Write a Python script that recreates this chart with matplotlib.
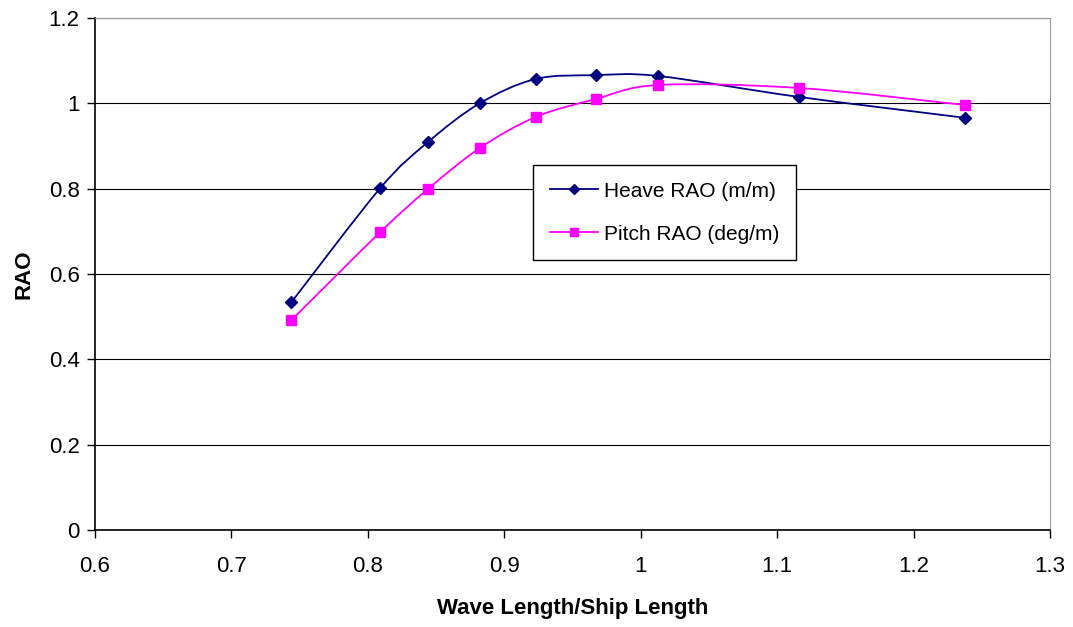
import matplotlib
matplotlib.use("Agg")
import matplotlib.pyplot as plt
from matplotlib.path import Path
from matplotlib.patches import PathPatch
from matplotlib.lines import Line2D
import numpy as np

plt.rcParams['font.family'] = ['Liberation Sans', 'DejaVu Sans']

# data
wave_ratio = [0.744, 0.809, 0.844, 0.882, 0.923, 0.967, 1.013, 1.116, 1.238]
heave_rao = [0.534, 0.801, 0.909, 1.000, 1.057, 1.066, 1.064, 1.015, 0.966]
pitch_rao = [0.492, 0.698, 0.799, 0.895, 0.968, 1.010, 1.043, 1.036, 0.996]

x_ticks = [0.6, 0.7, 0.8, 0.9, 1.0, 1.1, 1.2, 1.3]
x_labels = ['0.6', '0.7', '0.8', '0.9', '1', '1.1', '1.2', '1.3']
y_ticks = [0, 0.2, 0.4, 0.6, 0.8, 1.0, 1.2]
y_labels = ['0', '0.2', '0.4', '0.6', '0.8', '1', '1.2']


def smooth_path(x, y):
    # Excel style smoothed line: cubic bezier through the points
    pts = np.column_stack([x, y])
    verts = [pts[0]]
    codes = [Path.MOVETO]
    n = len(pts)
    for i in range(n - 1):
        p0 = pts[i - 1] if i > 0 else pts[i]
        p1 = pts[i]
        p2 = pts[i + 1]
        p3 = pts[i + 2] if i + 2 < n else pts[i + 1]
        c1 = p1 + (p2 - p0) / 6.0
        c2 = p2 - (p3 - p1) / 6.0
        verts += [c1, c2, p2]
        codes += [Path.CURVE4] * 3
    return Path(verts, codes)


fig = plt.figure(figsize=(10.73, 6.27), dpi=100)
ax = fig.add_axes([95 / 1073, 97 / 627, 955 / 1073, 512 / 627])

series = [
    (heave_rao, '#000080', 'D', 6.5, 'Heave RAO (m/m)'),
    (pitch_rao, '#FF00FF', 's', 7, 'Pitch RAO (deg/m)'),
]
handles = []
for vals, col, mk, ms, lab in series:
    ax.add_patch(PathPatch(smooth_path(wave_ratio, vals), facecolor='none',
                           edgecolor=col, lw=1.3, zorder=3))
    ax.plot(wave_ratio, vals, ls='none', marker=mk, ms=ms, color=col, zorder=4)
    handles.append(Line2D([], [], color=col, lw=1.3, marker=mk, ms=ms - 1, label=lab))

ax.set_xlim(0.6, 1.3)
ax.set_ylim(0, 1.2)
ax.set_xticks(x_ticks)
ax.set_xticklabels(x_labels)
ax.set_yticks(y_ticks)
ax.set_yticklabels(y_labels)
ax.tick_params(axis='both', direction='out', length=6, width=1, labelsize=16, color='black')
ax.tick_params(axis='x', pad=13)
ax.tick_params(axis='y', pad=5)

ax.grid(axis='y', color='black', lw=0.8)
ax.set_axisbelow(True)
for s in ['top', 'right']:
    ax.spines[s].set_color('#999999')
    ax.spines[s].set_linewidth(0.8)
for s in ['left', 'bottom']:
    ax.spines[s].set_color('black')
    ax.spines[s].set_linewidth(1.2)

ax.set_xlabel('Wave Length/Ship Length', fontsize=16, fontweight='bold', labelpad=15)
ax.set_ylabel('RAO', fontsize=16, fontweight='bold', labelpad=10)

leg = ax.legend(handles=handles, loc='upper left', bbox_to_anchor=(0.459, 0.713),
                fontsize=15, frameon=True, fancybox=False, edgecolor='black',
                framealpha=1, borderpad=0.8, labelspacing=1.15, handlelength=2.3,
                handletextpad=0.3, borderaxespad=0)
leg.get_frame().set_linewidth(1.0)

fig.savefig('out.png', dpi=100)
